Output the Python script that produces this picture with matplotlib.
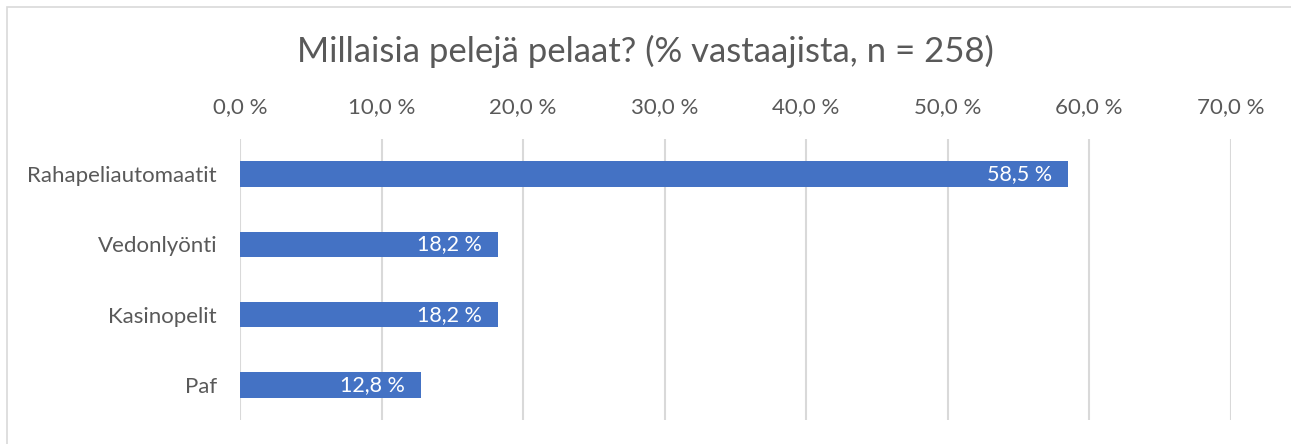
import matplotlib
matplotlib.use("Agg")
import matplotlib.pyplot as plt
from matplotlib.patches import Rectangle

# data
categories = ["Rahapeliautomaatit", "Vedonlyönti", "Kasinopelit", "Paf"]
values = [58.5, 18.2, 18.2, 12.8]
ticks = [0, 10, 20, 30, 40, 50, 60, 70]
title = "Millaisia pelejä pelaat? (% vastaajista, n = 258)"

bar_color = "#4472C4"
text_color = "#595959"
grid_color = "#D9D9D9"

plt.rcParams["font.family"] = ["Lato", "DejaVu Sans"]

fig = plt.figure(figsize=(12.91, 4.44), dpi=100)
ax = fig.add_axes([240 / 1291, 1 - 420 / 444, (1230.7 - 240) / 1291, (420 - 139) / 444])

# light frame of the chart area (left + top visible in the reference)
fig.patches.append(Rectangle((7 / 1291, -0.1), 1.2, 1 - 7 / 444 + 0.1,
                             transform=fig.transFigure, fill=False,
                             edgecolor="#D9D9D9", linewidth=1.2))

ypos = list(range(len(categories)))
ax.barh(ypos, values, height=0.36, color=bar_color, zorder=3)

for y, v in zip(ypos, values):
    lbl = f"{v:.1f} %".replace(".", ",")
    ax.annotate(lbl, (v, y), xytext=(-16, 0), textcoords="offset pixels",
                ha="right", va="center", color="white", fontsize=15.5, zorder=4)

ax.set_xlim(0, 70)
ax.set_ylim(len(categories) - 0.5, -0.5)
ax.set_xticks(ticks)
ax.set_xticklabels([f"{t:.1f} %".replace(".", ",") for t in ticks])
ax.xaxis.tick_top()
ax.set_yticks(ypos)
ax.set_yticklabels(categories)
ax.tick_params(axis="both", length=0, labelsize=16, labelcolor=text_color)
ax.tick_params(axis="x", pad=16)
ax.tick_params(axis="y", pad=16.5)
ax.grid(axis="x", color=grid_color, linewidth=1.5, zorder=0)
for s in ax.spines.values():
    s.set_visible(False)

fig.text(0.5, 1 - 51 / 444, title, ha="center", va="center",
         fontsize=25, color=text_color)

fig.savefig("out.png", dpi=100)
